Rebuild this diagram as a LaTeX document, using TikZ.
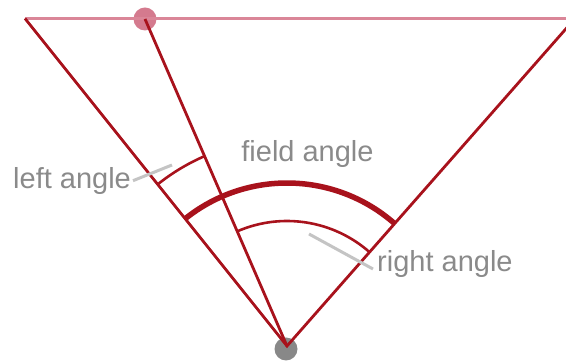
\documentclass[tikz,border=0pt]{standalone}
\usepackage{fontspec}
\setmainfont{Liberation Sans}
\definecolor{linered}{RGB}{168,18,28}
\definecolor{toppink}{RGB}{218,134,152}
\definecolor{dotpink}{RGB}{212,122,142}
\definecolor{dotgray}{RGB}{136,136,136}
\definecolor{txtgray}{RGB}{138,138,138}
\definecolor{leadgray}{RGB}{196,196,196}
\tikzset{
  redline/.style={draw=linered, line width=2.8pt},
  thickarc/.style={draw=linered, line width=5.5pt},
  thinarc/.style={draw=linered, line width=2.6pt},
  lbl/.style={text=txtgray, font=\fontsize{29}{34}\selectfont, inner sep=0pt},
  leader/.style={draw=leadgray, line width=3pt},
  dotstyle/.style={circle, inner sep=0pt, minimum size=23pt},
}
\begin{document}
\begin{tikzpicture}[x=1pt,y=1pt]
\useasboundingbox (0,0) rectangle (566,361);
\clip (0,0) rectangle (566,361);
% key points
\coordinate (A) at (287,15);
\coordinate (TL) at (25,342.5);
\coordinate (TR) at (575,342.5);
\coordinate (TE) at (580,342.5);
\node[dotstyle, fill=dotgray] (G) at (286,12) {};
\node[dotstyle, fill=dotpink] (P) at (145,342) {};
% top line
\draw[draw=toppink, line width=3pt] (TL) -- (TE);
% wedge lines
\draw[redline] (TL) -- (A) -- (TR);
\draw[redline] (P.center) -- (A);
% arcs centred at apex
\draw[thickarc] ([shift={(128.66:163)}]A) arc[start angle=128.66, end angle=48.67, radius=163];
\draw[thinarc] ([shift={(113.48:125)}]A) arc[start angle=113.48, end angle=48.67, radius=125];
\draw[thinarc] ([shift={(128.66:207)}]A) arc[start angle=128.66, end angle=113.48, radius=207];
% labels
\node[lbl, anchor=base west] (left) at (13,172) {left angle};
\node[lbl, anchor=base] (field) at (307.5,199) {field angle};
\node[lbl, anchor=base west] (right) at (377,89) {right angle};
% leaders
\coordinate (l1) at (133,180.3);
\coordinate (l2) at (172,196);
\coordinate (r1) at (309,127);
\coordinate (r2) at (373,92);
\draw[leader] (l1) -- (l2);
\draw[leader] (r1) -- (r2);
\end{tikzpicture}
\end{document}
